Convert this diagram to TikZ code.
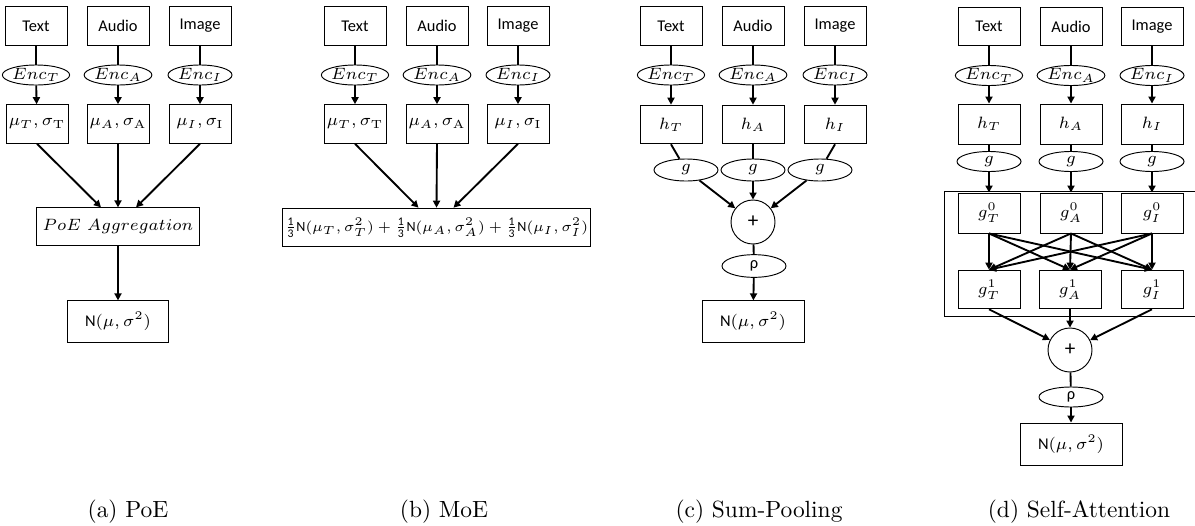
\documentclass[tikz,border=0pt]{standalone}
\usepackage{amsmath}
\usepackage{fontspec}
\newfontfamily\boxfont{Carlito}
\usetikzlibrary{shapes.geometric,arrows.meta,calc}
\newcommand{\third}{\frac{\text{1}}{\text{3}}}

\begin{document}
\begin{tikzpicture}[x=0.015cm,y=-0.015cm,
	mbox/.style={draw,minimum width=0.93cm,minimum height=0.58cm,inner sep=1pt,font=\boxfont\fontsize{7}{8}\selectfont},
	enc/.style={draw,ellipse,minimum width=0.96cm,minimum height=0.3cm,inner sep=0pt,font=\boxfont\fontsize{7}{8}\selectfont},
	gell/.style={enc,minimum height=0.33cm},
	sumc/.style={draw,circle,minimum size=0.66cm,inner sep=0pt,font=\boxfont\fontsize{9}{10}\selectfont},
	lnk/.style={thick},
	arr/.style={thick,-{Triangle[length=3pt,width=3pt]}}]
	\useasboundingbox (0,0) rectangle (1195,525);

	% (a) PoE
	\node[mbox] (aT) at (36,26) {Text};
	\node[mbox] (aA) at (118,26) {Audio};
	\node[mbox] (aI) at (200,26) {Image};
	\node[enc] (aeT) at (36,75) {$Enc_T$};
	\node[enc] (aeA) at (118,75) {$Enc_A$};
	\node[enc] (aeI) at (200,75) {$Enc_I$};
	\node[mbox] (amT) at (37,124) {$\mu_T,\sigma_{\mathrm{T}}$};
	\node[mbox] (amA) at (118,124) {$\mu_A,\sigma_{\mathrm{A}}$};
	\node[mbox] (amI) at (200,124) {$\mu_I,\sigma_{\mathrm{I}}$};
	\node[mbox,minimum width=2.45cm,minimum height=0.56cm,font=\fontsize{7.5}{8}\selectfont] (apoe) at (118,226.5) {$PoE\ Aggregation$};
	\node[mbox,minimum width=1.52cm,minimum height=0.62cm] (aN) at (118,321.5) {$\text{N}(\mu,\sigma^2)$};
	\draw[lnk] (aT) -- (aeT);
	\draw[lnk] (aA) -- (aeA);
	\draw[lnk] (aI) -- (aeI);
	\draw[arr] (aeT) -- (amT);
	\draw[arr] (aeA) -- (amA);
	\draw[arr] (aeI) -- (amI);
	\draw[arr] (amT.south) -- ($(apoe.north)+(-17,0)$);
	\draw[arr] (amA.south) -- (apoe.north);
	\draw[arr] (amI.south) -- ($(apoe.north)+(18,0)$);
	\draw[arr] (apoe) -- (aN);
	\node (acap) at (128,512) {(a) PoE};

	% (b) MoE
	\node[mbox] (bT) at (355,26) {Text};
	\node[mbox] (bA) at (437,26) {Audio};
	\node[mbox] (bI) at (518,26) {Image};
	\node[enc] (beT) at (355,75) {$Enc_T$};
	\node[enc] (beA) at (437,75) {$Enc_A$};
	\node[enc] (beI) at (518,75) {$Enc_I$};
	\node[mbox] (bmT) at (355,124) {$\mu_T,\sigma_{\mathrm{T}}$};
	\node[mbox] (bmA) at (437,124) {$\mu_A,\sigma_{\mathrm{A}}$};
	\node[mbox] (bmI) at (518,124) {$\mu_I,\sigma_{\mathrm{I}}$};
	\node[mbox,minimum width=4.22cm,minimum height=0.58cm,font=\boxfont\fontsize{6}{7}\selectfont] (bmix) at (436.5,227.5)
		{$\third\text{N}(\mu_T,\sigma_T^2)+\third\text{N}(\mu_A,\sigma_A^2)+\third\text{N}(\mu_I,\sigma_I^2)$};
	\draw[lnk] (bT) -- (beT);
	\draw[lnk] (bA) -- (beA);
	\draw[lnk] (bI) -- (beI);
	\draw[arr] (beT) -- (bmT);
	\draw[arr] (beA) -- (bmA);
	\draw[arr] (beI) -- (bmI);
	\draw[arr] (bmT.south) -- ($(bmix.north)+(-18,0)$);
	\draw[arr] (bmA.south) -- (bmix.north);
	\draw[arr] (bmI.south) -- ($(bmix.north)+(17,0)$);
	\node (bcap) at (444,512) {(b) MoE};

	% (c) Sum-Pooling
	\node[mbox] (cT) at (671,26) {Text};
	\node[mbox] (cA) at (753,26) {Audio};
	\node[mbox] (cI) at (835,26) {Image};
	\node[enc] (ceT) at (671,75) {$Enc_T$};
	\node[enc] (ceA) at (753,75) {$Enc_A$};
	\node[enc] (ceI) at (835,75) {$Enc_I$};
	\node[mbox] (chT) at (671,124.5) {$h_T$};
	\node[mbox] (chA) at (753,124.5) {$h_A$};
	\node[mbox] (chI) at (835,124.5) {$h_I$};
	\node[gell] (cgT) at (686,170) {$g$};
	\node[gell] (cgA) at (753,170) {$g$};
	\node[gell] (cgI) at (820,170) {$g$};
	\node[sumc] (cplus) at (753,222) {+};
	\node[enc,minimum height=0.34cm] (crho) at (754,266) {ρ};
	\node[mbox,minimum width=1.53cm,minimum height=0.62cm] (cN) at (753,321.5) {$\text{N}(\mu,\sigma^2)$};
	\draw[lnk] (cT) -- (ceT);
	\draw[lnk] (cA) -- (ceA);
	\draw[lnk] (cI) -- (ceI);
	\draw[arr] (ceT) -- (chT);
	\draw[arr] (ceA) -- (chA);
	\draw[arr] (ceI) -- (chI);
	\draw[lnk] (chT.south) -- (cgT);
	\draw[lnk] (chA) -- (cgA);
	\draw[lnk] (chI.south) -- (cgI);
	\draw[arr] (cgT) -- (cplus);
	\draw[arr] (cgA) -- (cplus);
	\draw[arr] (cgI) -- (cplus);
	\draw[lnk] (cplus) -- (crho);
	\draw[arr] (crho) -- (cN);
	\node (ccap) at (759,512) {(c) Sum-Pooling};

	% (d) Self-Attention
	\node[mbox] (dT) at (989,26.5) {Text};
	\node[mbox] (dA) at (1071,26.5) {Audio};
	\node[mbox] (dI) at (1152,26.5) {Image};
	\node[enc] (deT) at (989,75.5) {$Enc_T$};
	\node[enc] (deA) at (1071,75.5) {$Enc_A$};
	\node[enc] (deI) at (1152,75.5) {$Enc_I$};
	\node[mbox,minimum height=0.6cm] (dhT) at (989,124) {$h_T$};
	\node[mbox,minimum height=0.6cm] (dhA) at (1071,124) {$h_A$};
	\node[mbox,minimum height=0.6cm] (dhI) at (1152,124) {$h_I$};
	\node[enc] (dgT) at (989,161.5) {$g$};
	\node[enc] (dgA) at (1071,161.5) {$g$};
	\node[enc] (dgI) at (1152,161.5) {$g$};
	\draw (944,191) rectangle (1200,316);
	\node[mbox,minimum height=0.6cm] (dg0T) at (989,213) {$g_T^0$};
	\node[mbox,minimum height=0.6cm] (dg0A) at (1071,213) {$g_A^0$};
	\node[mbox,minimum height=0.6cm] (dg0I) at (1152,213) {$g_I^0$};
	\node[mbox] (dg1T) at (989,289.5) {$g_T^1$};
	\node[mbox] (dg1A) at (1070,289.5) {$g_A^1$};
	\node[mbox] (dg1I) at (1152,289.5) {$g_I^1$};
	\node[sumc] (dplus) at (1070,350) {+};
	\node[enc] (drho) at (1071,397) {ρ};
	\node[mbox,minimum width=1.53cm,minimum height=0.63cm] (dN) at (1071,444) {$\text{N}(\mu,\sigma^2)$};
	\draw[lnk] (dT) -- (deT);
	\draw[lnk] (dA) -- (deA);
	\draw[lnk] (dI) -- (deI);
	\draw[arr] (deT) -- (dhT);
	\draw[arr] (deA) -- (dhA);
	\draw[arr] (deI) -- (dhI);
	\draw[lnk] (dhT) -- (dgT);
	\draw[lnk] (dhA) -- (dgA);
	\draw[lnk] (dhI) -- (dgI);
	\draw[arr] (dgT) -- (dg0T);
	\draw[arr] (dgA) -- (dg0A);
	\draw[arr] (dgI) -- (dg0I);
	\foreach \s in {T,A,I}
		\foreach \t in {T,A,I}
			\draw[arr] (dg0\s.south) -- (dg1\t.north);
	\draw[arr] (dg1T.south) -- (dplus);
	\draw[arr] (dg1A.south) -- (dplus);
	\draw[arr] (dg1I.south) -- (dplus);
	\draw[lnk] (dplus) -- (drho);
	\draw[arr] (drho) -- (dN);
	\node (dcap) at (1079,512) {(d) Self-Attention};
\end{tikzpicture}
\end{document}
